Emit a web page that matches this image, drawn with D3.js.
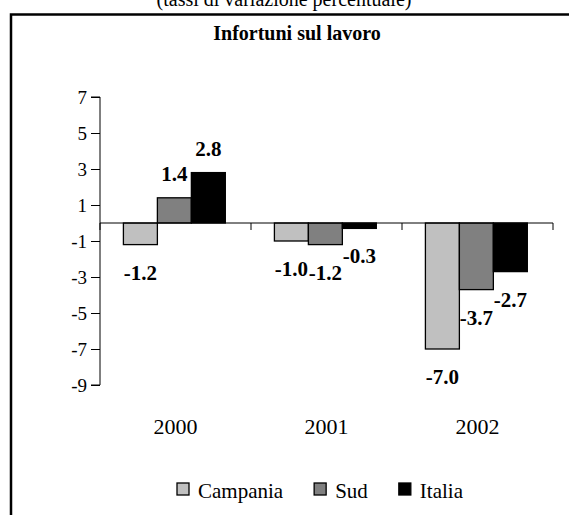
<!DOCTYPE html>
<html>
<head>
<meta charset="utf-8">
<script src="https://cdn.jsdelivr.net/npm/d3@7"></script>
<style>
  html, body { margin: 0; padding: 0; background: #fff; }
  svg text { font-family: "Liberation Serif", "Times New Roman", serif; fill: #000; }
</style>
</head>
<body>
<div id="chart"></div>
<script>
const years = ["2000", "2001", "2002"];
const series = ["Campania", "Sud", "Italia"];
const campania = [-1.2, -1.0, -7.0];
const sud = [1.4, -1.2, -3.7];
const italia = [2.8, -0.3, -2.7];
const yTicks = [7, 5, 3, 1, -1, -3, -5, -7, -9];
const colors = ["#c0c0c0", "#808080", "#000000"];

const width = 569, height = 515;
const values = [campania, sud, italia];

const svg = d3.select("#chart")
    .append("svg")
    .attr("width", width)
    .attr("height", height);

// subtitle, cut at the top edge
svg.append("text")
    .attr("x", 284)
    .attr("y", 6)
    .attr("text-anchor", "middle")
    .attr("font-size", 20)
    .text("(tassi di variazione percentuale)");

// frame (runs off right and bottom)
svg.append("rect")
    .attr("x", 11)
    .attr("y", 14.5)
    .attr("width", 700)
    .attr("height", 700)
    .attr("fill", "none")
    .attr("stroke", "#000")
    .attr("stroke-width", 2.5);

svg.append("text")
    .attr("x", 297)
    .attr("y", 40)
    .attr("text-anchor", "middle")
    .attr("font-size", 20)
    .attr("font-weight", "bold")
    .text("Infortuni sul lavoro");

const y = d3.scaleLinear().domain([-9, 7]).range([385, 97]);
const x = d3.scaleBand().domain(years).range([100, 553]);
const bw = x.bandwidth();
const x1 = d3.scaleBand().domain(series).range([bw * 0.155, bw * 0.83]);

// y axis
const yAxis = svg.append("g")
    .attr("transform", "translate(100,0)")
    .call(d3.axisLeft(y).tickValues(yTicks).tickSize(9).tickPadding(4).tickFormat(d3.format("d")));
yAxis.attr("font-family", null).attr("font-size", null);
yAxis.select(".domain").attr("d", `M-9,${y(7)}H0V${y(-9)}H-9`).attr("stroke", "#000");
yAxis.selectAll(".tick text")
    .style("font-size", "19px")
    .text(d => d < 0 ? "-" + Math.abs(d) : d);
yAxis.selectAll(".tick line").attr("stroke", "#000");

const rows = years.map((yr, i) => ({ year: yr, vals: series.map((s, j) => ({ s, j, v: values[j][i] })) }));

const groups = svg.selectAll("g.grp")
    .data(rows)
    .join("g")
    .attr("class", "grp")
    .attr("transform", d => `translate(${x(d.year)},0)`);

groups.selectAll("rect")
    .data(d => d.vals)
    .join("rect")
    .attr("x", d => x1(d.s))
    .attr("width", x1.bandwidth())
    .attr("y", d => y(Math.max(0, d.v)))
    .attr("height", d => Math.abs(y(d.v) - y(0)))
    .attr("fill", d => colors[d.j])
    .attr("stroke", "#000")
    .attr("stroke-width", 1.3);

// x axis line and category boundary ticks
const xAxis = svg.append("g")
    .attr("transform", `translate(0,${y(0)})`);
xAxis.append("line")
    .attr("x1", 100).attr("x2", 553)
    .attr("stroke", "#000");
xAxis.selectAll("line.tk")
    .data(years.map(d => x(d)).concat([x(years[years.length - 1]) + bw]))
    .join("line")
    .attr("class", "tk")
    .attr("x1", d => d).attr("x2", d => d)
    .attr("y1", 0).attr("y2", 7)
    .attr("stroke", "#000");

// data labels
groups.selectAll("text.lbl")
    .data(d => d.vals)
    .join("text")
    .attr("class", "lbl")
    .attr("x", d => x1(d.s) + x1.bandwidth() / 2)
    .attr("y", d => d.v >= 0 ? y(d.v) - 17 : y(d.v) + 35)
    .attr("text-anchor", "middle")
    .attr("font-size", 21)
    .attr("font-weight", "bold")
    .text(d => d3.format(".1f")(d.v).replace("−", "-"));

// category labels
svg.selectAll("text.cat")
    .data(years)
    .join("text")
    .attr("class", "cat")
    .attr("x", d => x(d) + bw / 2)
    .attr("y", 434)
    .attr("text-anchor", "middle")
    .attr("font-size", 22)
    .text(d => d);

// legend
const legend = svg.append("g").attr("transform", "translate(177,0)");
let lx = 0;
series.forEach((s, j) => {
    const it = legend.append("g").attr("transform", `translate(${lx},0)`);
    it.append("rect")
        .attr("x", 0).attr("y", 483)
        .attr("width", 12).attr("height", 12)
        .attr("fill", colors[j])
        .attr("stroke", "#000")
        .attr("stroke-width", 1.3);
    const t = it.append("text")
        .attr("x", 21)
        .attr("y", 498)
        .attr("font-size", 21)
        .text(s);
    lx += 21 + t.node().getComputedTextLength() + 31;
});
</script>
</body>
</html>
